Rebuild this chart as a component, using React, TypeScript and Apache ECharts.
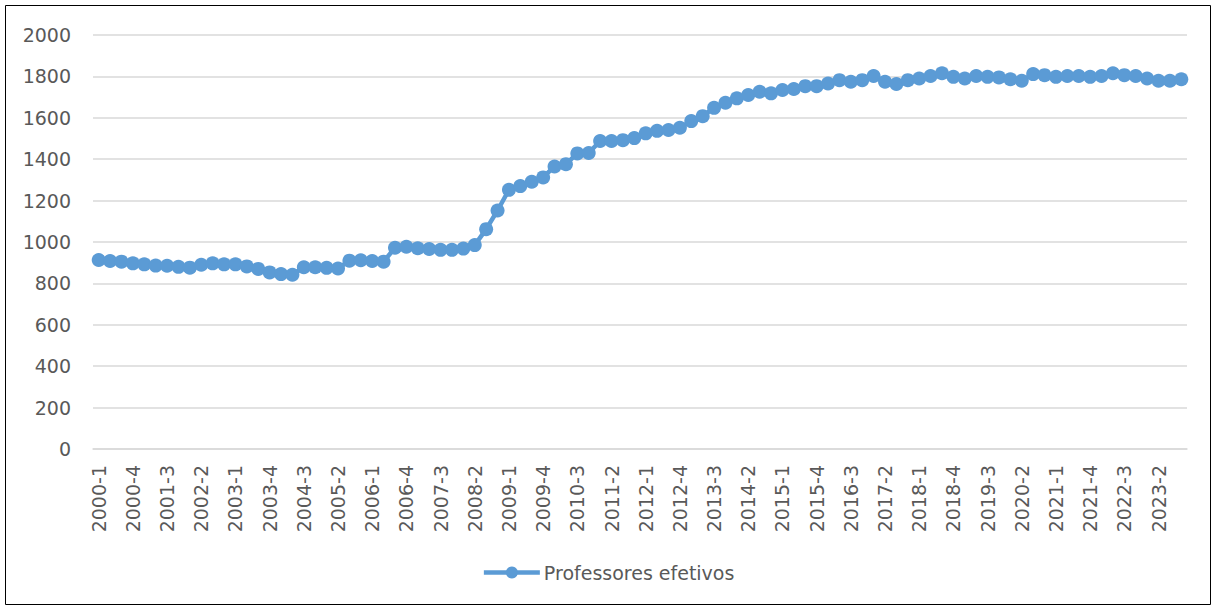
import React, { useEffect, useRef } from "react";
import * as echarts from "echarts";

// Quarterly headcount of permanent teachers, 2000-1 .. 2023-4
const years: number[] = [
  2000, 2001, 2002, 2003, 2004, 2005, 2006, 2007, 2008, 2009, 2010, 2011,
  2012, 2013, 2014, 2015, 2016, 2017, 2018, 2019, 2020, 2021, 2022, 2023,
];
const quarters: number[] = [1, 2, 3, 4];
const categories: string[] = years.flatMap((y) => quarters.map((q) => `${y}-${q}`));

const professoresEfetivos: number[] = [
  913, 908, 905, 897, 892, 886, 885, 880, 876, 890, 897, 892,
  892, 882, 870, 853, 845, 842, 878, 878, 875, 872, 910, 912,
  908, 905, 972, 977, 970, 966, 962, 962, 968, 985, 1062, 1152,
  1252, 1270, 1291, 1312, 1365, 1376, 1428, 1430, 1488, 1488, 1492, 1502,
  1525, 1537, 1541, 1552, 1584, 1608, 1648, 1673, 1694, 1710, 1726, 1718,
  1734, 1739, 1753, 1753, 1766, 1782, 1774, 1782, 1802, 1774, 1763, 1782,
  1790, 1802, 1815, 1798, 1790, 1802, 1798, 1795, 1786, 1779, 1811, 1806,
  1798, 1802, 1802, 1798, 1802, 1815, 1806, 1802, 1790, 1779, 1779, 1786,
];

const seriesName = "Professores efetivos";
const yTicks = { min: 0, max: 2000, interval: 200 };

const FONT = "DejaVu Sans";
const TEXT = "#595959";
const GRID = "#D9D9D9";
const BLUE = "#5B9BD5";

export default function App() {
  const ref = useRef<HTMLDivElement>(null);

  useEffect(() => {
    if (!ref.current) return;
    const chart = echarts.init(ref.current, undefined, { renderer: "svg" });
    chart.setOption({
      animation: false,
      backgroundColor: "#fff",
      textStyle: { fontFamily: FONT, color: TEXT },
      graphic: [
        {
          type: "rect",
          shape: { x: 5.5, y: 5.5, width: 1205, height: 599 },
          style: { fill: "none", stroke: "#000", lineWidth: 1 },
          silent: true,
        },
      ],
      grid: { left: 93, right: 29, top: 35, bottom: 161, containLabel: false },
      legend: {
        top: 558,
        left: "center",
        itemWidth: 56,
        itemHeight: 15,
        itemGap: 10,
        lineStyle: { width: 4.5 },
        textStyle: { fontFamily: FONT, fontSize: 19, color: TEXT, padding: [0, 0, 0, -1] },
        data: [seriesName],
      },
      xAxis: {
        type: "category",
        data: categories,
        boundaryGap: true,
        axisLine: { show: true, lineStyle: { color: GRID, width: 1.5 } },
        axisTick: { show: false },
        axisLabel: {
          interval: 2,
          rotate: 90,
          margin: 16,
          fontFamily: FONT,
          fontSize: 19,
          color: TEXT,
        },
      },
      yAxis: {
        type: "value",
        min: yTicks.min,
        max: yTicks.max,
        interval: yTicks.interval,
        axisLine: { show: false },
        axisTick: { show: false },
        splitLine: { lineStyle: { color: GRID, width: 1.5 } },
        axisLabel: {
          margin: 22,
          fontFamily: FONT,
          fontSize: 19,
          color: TEXT,
          formatter: (v: number) => String(v),
        },
      },
      series: [
        {
          name: seriesName,
          type: "line",
          data: professoresEfetivos,
          symbol: "circle",
          symbolSize: 14,
          showSymbol: true,
          showAllSymbol: true,
          lineStyle: { color: BLUE, width: 4.5 },
          itemStyle: { color: BLUE },
        },
      ],
    });
    return () => chart.dispose();
  }, []);

  return (
    <div
      ref={ref}
      style={{ position: "fixed", left: 0, top: 0, width: 1216, height: 610 }}
    />
  );
}
